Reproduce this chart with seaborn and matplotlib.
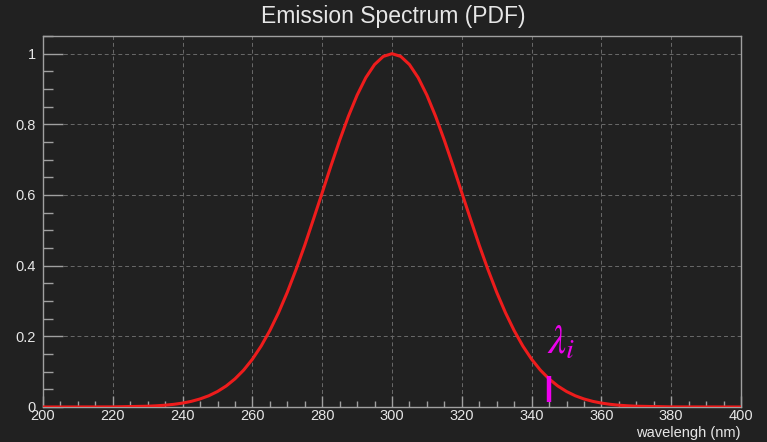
import numpy as np
import pandas as pd
import matplotlib
matplotlib.use("Agg")
import matplotlib.pyplot as plt
import seaborn as sns
from matplotlib.ticker import MultipleLocator, FixedLocator

# ---- data ----
wavelength = [200, 220, 230, 232.5, 235, 237.5, 240, 242.5, 245, 247.5, 250, 252.5, 255,
              257.5, 260, 262.5, 265, 267.5, 270, 272.5, 275, 277.5, 280, 282.5, 285,
              287.5, 290, 292.5, 295, 297.5, 300, 302.5, 305, 307.5, 310, 312.5, 315,
              317.5, 320, 322.5, 325, 327.5, 330, 332.5, 335, 337.5, 340, 342.5, 345,
              347.5, 350, 352.5, 355, 357.5, 360, 362.5, 365, 367.5, 370, 380, 400]
pdf = [0.0, 0.0003, 0.0022, 0.0034, 0.0051, 0.0076, 0.0111, 0.0160, 0.0228, 0.0318, 0.0439,
       0.0595, 0.0796, 0.1045, 0.1353, 0.1724, 0.2163, 0.2671, 0.3247, 0.3889, 0.4578,
       0.5316, 0.6065, 0.6822, 0.7548, 0.8226, 0.8825, 0.9321, 0.9692, 0.9922, 1.0,
       0.9922, 0.9692, 0.9321, 0.8825, 0.8226, 0.7548, 0.6822, 0.6065, 0.5316, 0.4578,
       0.3889, 0.3247, 0.2671, 0.2163, 0.1724, 0.1353, 0.1045, 0.0796, 0.0595, 0.0439,
       0.0318, 0.0228, 0.0160, 0.0111, 0.0076, 0.0051, 0.0034, 0.0022, 0.0003, 0.0]
marker_x = [345, 345]
marker_y = [0.014, 0.088]
x_ticks = [200, 220, 240, 260, 280, 300, 320, 340, 360, 380, 400]
y_ticks = [0, 0.2, 0.4, 0.6, 0.8, 1.0]
y_tick_labels = ["0", "0.2", "0.4", "0.6", "0.8", "1"]

BG = "#212121"
FG = "#e6e6e6"
SPINE = "#a0a0a0"
MAG = "#ee00ee"

sns.set_theme(style="dark")
plt.rcParams["font.family"] = ["Liberation Sans", "DejaVu Sans"]
plt.rcParams["mathtext.fontset"] = "stix"

fig = plt.figure(figsize=(7.67, 4.42), dpi=100, facecolor=BG)
ax = fig.add_axes([43 / 767, 1 - 407 / 442, (741 - 43) / 767, (407 - 36) / 442])
ax.set_facecolor(BG)

df = pd.DataFrame({"wavelength": wavelength, "pdf": pdf})
sns.lineplot(data=df, x="wavelength", y="pdf", ax=ax, color="#ee1c1c", linewidth=2.2,
             zorder=3)
ax.plot(marker_x, marker_y, color=MAG, linewidth=3.2, solid_capstyle="butt", zorder=4)
ax.text(344.3, 0.150, r"$\lambda_{i}$", color=MAG, fontsize=29, ha="left",
        va="baseline", zorder=5)

ax.set_xlim(200, 400)
ax.set_ylim(0, 1.05)
ax.xaxis.set_major_locator(FixedLocator(x_ticks))
ax.xaxis.set_minor_locator(MultipleLocator(5))
ax.yaxis.set_major_locator(FixedLocator(y_ticks))
ax.set_yticklabels(y_tick_labels)
ax.yaxis.set_minor_locator(MultipleLocator(0.05))

ax.grid(True, which="major", color="#6a6a6a", linestyle=(0, (4, 3)), linewidth=0.7)
ax.tick_params(axis="both", which="both", direction="in", colors=SPINE, labelcolor=FG,
               labelsize=10.5, bottom=True, left=True, top=False, right=False)
ax.tick_params(axis="x", which="major", length=8, width=1, pad=1.5)
ax.tick_params(axis="x", which="minor", length=4, width=1)
ax.tick_params(axis="y", which="major", length=14.5, width=1, pad=5)
ax.tick_params(axis="y", which="minor", length=7.5, width=1)

for s in ax.spines.values():
    s.set_visible(True)
    s.set_color(SPINE)
    s.set_linewidth(1)

ax.set_xlabel("")
ax.set_ylabel("")
fig.text(741 / 767, 1 - 433 / 442, "wavelengh (nm)", color=FG, fontsize=10.5,
         ha="right", va="center")
fig.text(393 / 767, 1 - 17 / 442, "Emission Spectrum (PDF)", color=FG, fontsize=16.5,
         ha="center", va="center")

fig.savefig("out.png", dpi=100, facecolor=BG)
